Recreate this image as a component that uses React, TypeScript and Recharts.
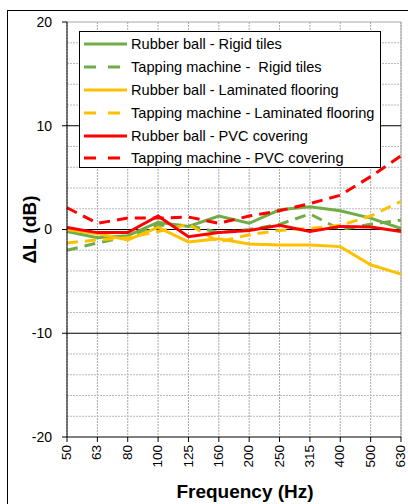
import { CartesianGrid, Legend, Line, LineChart, ReferenceLine, XAxis, YAxis } from "recharts";

const FREQS = ["50", "63", "80", "100", "125", "160", "200", "250", "315", "400", "500", "630"];

const RB_RIGID = [-0.2, -0.8, -0.6, 0.7, 0.3, 1.3, 0.6, 1.9, 2.2, 1.8, 1.1, 0.1];
const TM_RIGID = [-2.0, -1.3, -0.7, 0.4, 0.4, -0.3, 0.0, 0.5, 1.5, 0.0, 0.5, 0.9];
const RB_LAM = [0.0, -0.4, -1.0, 0.2, -1.2, -0.9, -1.4, -1.5, -1.5, -1.65, -3.4, -4.3];
const TM_LAM = [-1.3, -1.0, -0.8, -0.2, 0.5, -1.2, -0.5, -0.1, 0.1, 0.4, 1.3, 2.7];
const RB_PVC = [0.2, -0.3, -0.3, 1.3, -0.7, -0.3, -0.1, 0.4, -0.2, 0.3, 0.25, -0.2];
const TM_PVC = [2.1, 0.6, 1.1, 1.1, 1.2, 0.6, 1.3, 1.8, 2.5, 3.3, 5.1, 7.1];

const Y_TICKS = [-20, -10, 0, 10, 20];
const MAJOR_LINES = [-10, 0, 10];
const MINOR_LINES = [-18, -16, -14, -12, -8, -6, -4, -2, 2, 4, 6, 8, 12, 14, 16, 18];

const SERIES = [
  { key: "rbRigid", name: "Rubber ball - Rigid tiles", color: "#70AD47", dashed: false },
  { key: "tmRigid", name: "Tapping machine -  Rigid tiles", color: "#70AD47", dashed: true },
  { key: "rbLam", name: "Rubber ball - Laminated flooring", color: "#FFC000", dashed: false },
  { key: "tmLam", name: "Tapping machine - Laminated flooring", color: "#FFC000", dashed: true },
  { key: "rbPvc", name: "Rubber ball - PVC covering", color: "#FF0000", dashed: false },
  { key: "tmPvc", name: "Tapping machine - PVC covering", color: "#FF0000", dashed: true },
];

const data = FREQS.map((f, i) => ({
  f,
  rbRigid: RB_RIGID[i],
  tmRigid: TM_RIGID[i],
  rbLam: RB_LAM[i],
  tmLam: TM_LAM[i],
  rbPvc: RB_PVC[i],
  tmPvc: TM_PVC[i],
}));

const FONT = "'Liberation Sans', Arial, sans-serif";

function XTick({ x, y, payload }: any) {
  return (
    <text
      x={x}
      y={y}
      transform={`rotate(-90 ${x} ${y})`}
      textAnchor="end"
      dy="0.3em"
      fontSize={13.5}
      fontFamily={FONT}
      fill="#000"
    >
      {payload.value}
    </text>
  );
}

function YTitle({ viewBox }: any) {
  const cy = viewBox.y + viewBox.height / 2;
  return (
    <text
      x={29}
      y={cy}
      transform={`rotate(-90 29 ${cy})`}
      textAnchor="middle"
      dominantBaseline="central"
      fontSize={19}
      fontWeight="bold"
      fontFamily={FONT}
      fill="#000"
    >
      ΔL (dB)
    </text>
  );
}

function XTitle() {
  return (
    <text x={245} y={498} textAnchor="middle" fontSize={19} fontWeight="bold" fontFamily={FONT} fill="#000">
      Frequency (Hz)
    </text>
  );
}

function LegendBox() {
  return (
    <div
      style={{
        width: 302,
        height: 137,
        boxSizing: "border-box",
        border: "1px solid #000",
        background: "#fff",
        paddingTop: 1,
        paddingLeft: 4,
        fontFamily: FONT,
        fontSize: 14.6,
        color: "#000",
      }}
    >
      {SERIES.map((s) => (
        <div key={s.key} style={{ display: "flex", alignItems: "center", height: 22.8 }}>
          <svg width={43} height={6} style={{ marginRight: 4 }}>
            <line
              x1={0}
              y1={3}
              x2={43}
              y2={3}
              stroke={s.color}
              strokeWidth={3}
              strokeDasharray={s.dashed ? "12 12" : undefined}
            />
          </svg>
          <span style={{ whiteSpace: "pre" }}>{s.name}</span>
        </div>
      ))}
    </div>
  );
}

export default function App() {
  return (
    <div style={{ position: "absolute", left: 0, top: 0, width: 408, height: 504, overflow: "hidden", background: "#fff" }}>
      <div
        style={{
          position: "absolute",
          left: 7,
          top: 10,
          width: 440,
          height: 540,
          border: "1px solid #000",
          boxSizing: "border-box",
        }}
      />
      <div style={{ position: "absolute", left: 0, top: 0 }}>
        <LineChart width={408} height={504} data={data} margin={{ top: 22, right: 7, left: 0, bottom: 0 }}>
          <CartesianGrid horizontal={false} vertical stroke="#a8a8a8" strokeDasharray="2 1" />
          {MINOR_LINES.map((v) => (
            <ReferenceLine key={v} y={v} stroke="#b8b8b8" strokeDasharray="2 1" />
          ))}
          <ReferenceLine y={20} stroke="#a6a6a6" />
          <ReferenceLine x="630" stroke="#a6a6a6" />
          {MAJOR_LINES.map((v) => (
            <ReferenceLine key={v} y={v} stroke="#000" />
          ))}
          <XAxis
            dataKey="f"
            height={67}
            interval={0}
            tick={<XTick />}
            tickSize={5}
            tickMargin={3}
            axisLine={{ stroke: "#000" }}
            tickLine={{ stroke: "#000" }}
            label={<XTitle />}
          />
          <YAxis
            width={67}
            domain={[-20, 20]}
            ticks={Y_TICKS}
            tickSize={5}
            tickMargin={10}
            axisLine={{ stroke: "#000" }}
            tickLine={{ stroke: "#000" }}
            tick={{ fontSize: 14, fontFamily: FONT, fill: "#000" }}
            label={<YTitle />}
          />
          {SERIES.map((s) => (
            <Line
              key={s.key}
              type="linear"
              dataKey={s.key}
              name={s.name}
              stroke={s.color}
              strokeWidth={3}
              strokeDasharray={s.dashed ? "11 7" : undefined}
              dot={false}
              activeDot={false}
              isAnimationActive={false}
            />
          ))}
          <Legend
            layout="vertical"
            align="center"
            verticalAlign="middle"
            content={<LegendBox />}
            wrapperStyle={{ position: "absolute", left: 79, top: 31, width: 302, height: 137 }}
          />
        </LineChart>
      </div>
    </div>
  );
}
